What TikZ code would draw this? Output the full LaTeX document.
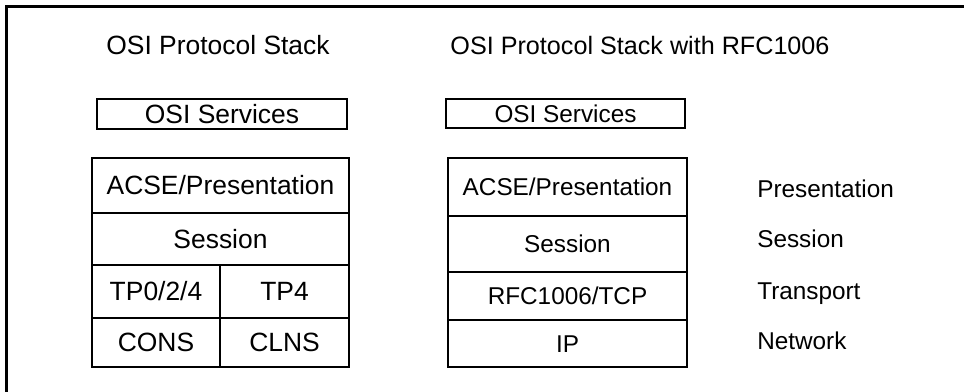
\documentclass[tikz,border=0pt]{standalone}
\usepackage{fontspec}
\setmainfont{Liberation Sans}
\usepackage{tikz}

\tikzset{
  txt/.style={inner sep=0pt, text height=13.5pt, text depth=0pt, font=\fontsize{18.8pt}{22pt}\selectfont},
  smalltxt/.style={txt, text height=12.4pt, font=\fontsize{17.3pt}{20pt}\selectfont},
  cell/.style={txt, draw, line width=0.8pt, rectangle},
  smallcell/.style={cell, smalltxt}
}

\begin{document}
\begin{tikzpicture}
\useasboundingbox (0,0) rectangle (24.1,-9.775);
\draw[line width=2.1pt] (0.1625,-9.9) -- (0.1625,-0.1625) -- (24.3,-0.1625);
\node[txt] (titleL) at (5.45,-1.1375) {OSI Protocol Stack};
\node[txt, text height=12.9pt, font=\fontsize{17.9pt}{21pt}\selectfont] (titleR) at (16.0,-1.1375) {OSI Protocol Stack with RFC1006};
\node[cell, minimum width=6.25cm, minimum height=0.75cm] (svcL) at (5.55,-2.85) {OSI Services};
\node[smallcell, minimum width=5.975cm, minimum height=0.725cm] (svcR) at (14.1375,-2.8375) {OSI Services};
\node[cell, minimum width=6.425cm, minimum height=1.375cm] (acseL) at (5.5125,-4.6375) {ACSE/Presentation};
\node[cell, minimum width=6.425cm, minimum height=1.3cm] (sessL) at (5.5125,-5.975) {Session};
\node[cell, minimum width=3.2cm, minimum height=1.325cm] (tpL) at (3.9,-7.2875) {TP0/2/4};
\node[cell, minimum width=3.225cm, minimum height=1.325cm] (tpR) at (7.1125,-7.2875) {TP4};
\node[cell, minimum width=3.2cm, minimum height=1.225cm] (cons) at (3.9,-8.5625) {CONS};
\node[cell, minimum width=3.225cm, minimum height=1.225cm] (clns) at (7.1125,-8.5625) {CLNS};
\node[smallcell, minimum width=5.975cm, minimum height=1.45cm] (acseR) at (14.1875,-4.675) {ACSE/Presentation};
\node[smallcell, minimum width=5.975cm, minimum height=1.4cm] (sessR) at (14.1875,-6.1) {Session};
\node[smallcell, minimum width=5.975cm, minimum height=1.2cm] (rfc) at (14.1875,-7.4) {RFC1006/TCP};
\node[smallcell, minimum width=5.975cm, minimum height=1.175cm] (ip) at (14.1875,-8.5875) {IP};
\foreach \t/\y [count=\i] in {Presentation/4.725,Session/5.975,Transport/7.275,Network/8.525}
  \node[smalltxt, anchor=west] (layer\i) at (18.925,-\y) {\t};
\end{tikzpicture}
\end{document}
